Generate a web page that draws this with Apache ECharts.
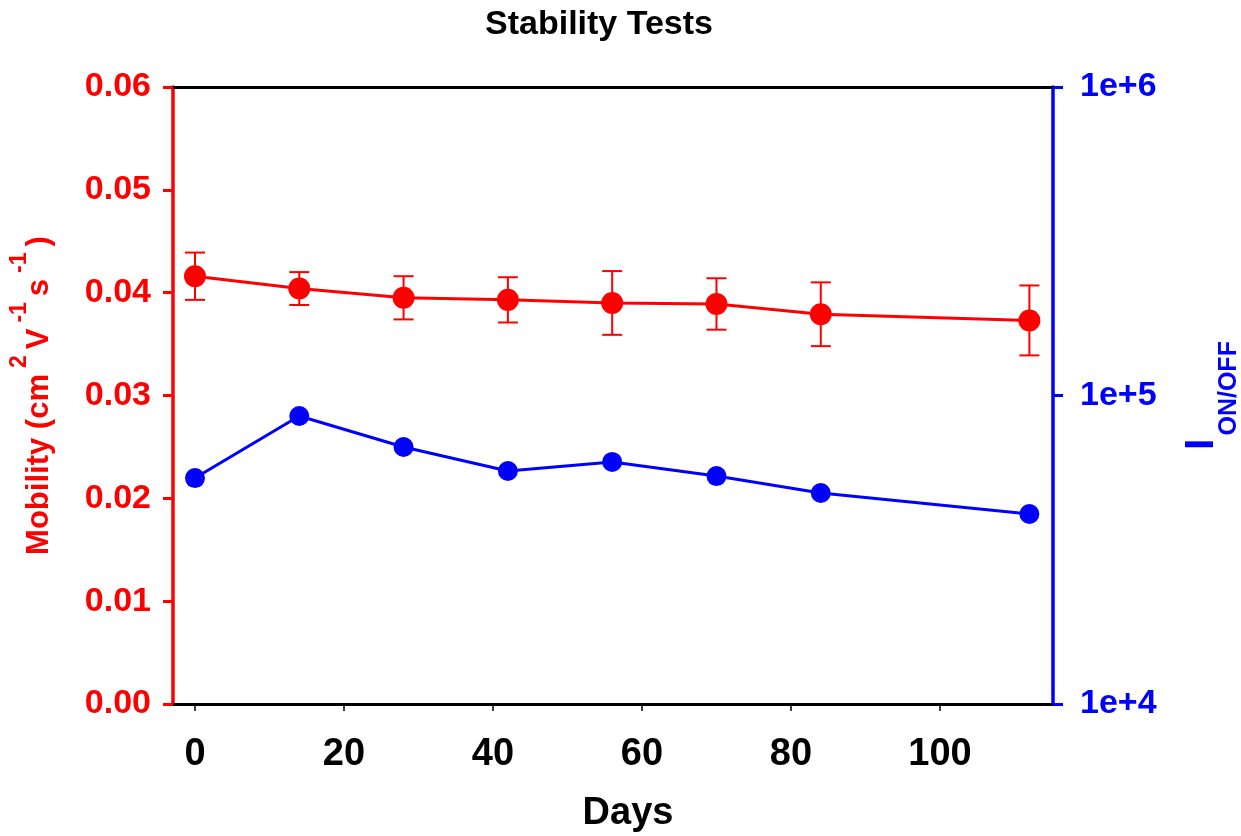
<!DOCTYPE html>
<html>
<head>
<meta charset="utf-8">
<script src="https://cdn.jsdelivr.net/npm/echarts@6/dist/echarts.min.js"></script>
<style>
  html, body { margin: 0; padding: 0; background: #ffffff; }
  #chart { width: 1241px; height: 836px; }
</style>
</head>
<body>
<div id="chart"></div>
<script>
// Storage time in days
const days = [0, 14, 28, 42, 56, 70, 84, 112];
// Mean field-effect mobility (cm^2 V^-1 s^-1) and its standard deviation
const mobility = [0.0416, 0.0404, 0.0395, 0.0393, 0.0390, 0.0389, 0.0379, 0.0373];
const mobilityErr = [0.0023, 0.0016, 0.0021, 0.0022, 0.0031, 0.0025, 0.0031, 0.0034];
// Current on/off ratio
const onOff = [54000, 85800, 68100, 56900, 60900, 54800, 48300, 41300];
// Bottom axis tick positions
const dayTicks = [0, 20, 40, 60, 80, 100];

const FONT = '"Liberation Sans", Arial, sans-serif';
const RED = '#ff0000';
const BLUE = '#0000ff';

const mobilityPts = days.map((d, i) => [d, mobility[i]]);
const onOffPts = days.map((d, i) => [d, onOff[i]]);
const errPts = days.map((d, i) => [d, mobility[i] - mobilityErr[i], mobility[i] + mobilityErr[i]]);

function renderErrorBar(params, api) {
  const x = api.value(0);
  const lo = api.coord([x, api.value(1)]);
  const hi = api.coord([x, api.value(2)]);
  const half = 10;
  const style = { stroke: RED, lineWidth: 2 };
  return {
    type: 'group',
    children: [
      { type: 'line', shape: { x1: lo[0], y1: lo[1], x2: hi[0], y2: hi[1] }, style },
      { type: 'line', shape: { x1: lo[0] - half, y1: lo[1], x2: lo[0] + half, y2: lo[1] }, style },
      { type: 'line', shape: { x1: hi[0] - half, y1: hi[1], x2: hi[0] + half, y2: hi[1] }, style }
    ]
  };
}

const chart = echarts.init(document.getElementById('chart'), null, { renderer: 'canvas' });

chart.setOption({
  animation: false,
  backgroundColor: '#ffffff',
  title: {
    text: 'Stability Tests',
    left: 599,
    top: 8,
    padding: 0,
    textAlign: 'center',
    textStyle: { fontFamily: FONT, fontWeight: 'bold', fontSize: 34, color: '#000000' }
  },
  grid: { left: 173, right: 188, top: 87, bottom: 132, containLabel: false, outerBoundsMode: 'none' },
  xAxis: [
    {
      type: 'value',
      position: 'bottom',
      min: -2.95,
      max: 115.17,
      name: 'Days',
      nameLocation: 'middle',
      nameGap: 91,
      nameTextStyle: { fontFamily: FONT, fontWeight: 'bold', fontSize: 38, color: '#000000', padding: [0, 0, 0, 30] },
      axisLine: { show: true, onZero: false, lineStyle: { color: '#000000', width: 3 } },
      axisTick: { show: true, customValues: dayTicks, length: 7, lineStyle: { color: '#000000', width: 1.5 } },
      axisLabel: { customValues: dayTicks, margin: 32, fontFamily: FONT, fontWeight: 'bold', fontSize: 38, color: '#000000' },
      splitLine: { show: false }
    },
    {
      type: 'value',
      position: 'top',
      min: -2.95,
      max: 115.17,
      axisLine: { show: true, onZero: false, lineStyle: { color: '#000000', width: 3 } },
      axisTick: { show: false },
      axisLabel: { show: false },
      splitLine: { show: false }
    }
  ],
  yAxis: [
    {
      type: 'value',
      position: 'left',
      min: 0,
      max: 0.06,
      interval: 0.01,
      name: '{m|Mobility (cm}{s|2}{m|V}{s|-1}{m|s}{s|-1}{m|)}',
      nameLocation: 'middle',
      nameGap: 102,
      nameTextStyle: {
        color: RED,
        rich: {
          m: { fontFamily: FONT, fontWeight: 'bold', fontSize: 31, color: RED },
          s: { fontFamily: FONT, fontWeight: 'bold', fontSize: 23, color: RED, padding: [0, 6, 40, 6] }
        }
      },
      axisLine: { show: true, onZero: false, lineStyle: { color: RED, width: 3.5 } },
      axisTick: { show: true, length: 10, lineStyle: { color: RED, width: 3 } },
      axisLabel: {
        margin: 22,
        fontFamily: FONT, fontWeight: 'bold', fontSize: 34, color: RED,
        formatter: v => v.toFixed(2)
      },
      splitLine: { show: false }
    },
    {
      type: 'log',
      logBase: 10,
      position: 'right',
      min: 1e4,
      max: 1e6,
      name: '{i|I}{o|ON/OFF}',
      nameLocation: 'middle',
      nameGap: 108,
      nameTextStyle: {
        color: BLUE,
        rich: {
          i: { fontFamily: FONT, fontWeight: 'bold', fontSize: 41, color: BLUE },
          o: { fontFamily: FONT, fontWeight: 'bold', fontSize: 25, color: BLUE, padding: [56, 0, 0, 3] }
        }
      },
      axisLine: { show: true, onZero: false, lineStyle: { color: BLUE, width: 3.5 } },
      axisTick: { show: true, length: 10, lineStyle: { color: BLUE, width: 3 } },
      minorTick: { show: false },
      axisLabel: {
        margin: 27,
        fontFamily: FONT, fontWeight: 'bold', fontSize: 34, color: BLUE,
        formatter: v => '1e+' + Math.round(Math.log10(v))
      },
      splitLine: { show: false }
    }
  ],
  series: [
    {
      name: 'error',
      type: 'custom',
      xAxisIndex: 0,
      yAxisIndex: 0,
      renderItem: renderErrorBar,
      encode: { x: 0, y: [1, 2] },
      data: errPts,
      z: 1,
      silent: true
    },
    {
      name: 'Mobility',
      type: 'line',
      xAxisIndex: 0,
      yAxisIndex: 0,
      data: mobilityPts,
      symbol: 'circle',
      symbolSize: 22,
      lineStyle: { color: RED, width: 3 },
      itemStyle: { color: RED },
      z: 3
    },
    {
      name: 'ON/OFF',
      type: 'line',
      xAxisIndex: 0,
      yAxisIndex: 1,
      data: onOffPts,
      symbol: 'circle',
      symbolSize: 20,
      lineStyle: { color: BLUE, width: 3 },
      itemStyle: { color: BLUE },
      z: 3
    }
  ]
});
</script>
</body>
</html>
